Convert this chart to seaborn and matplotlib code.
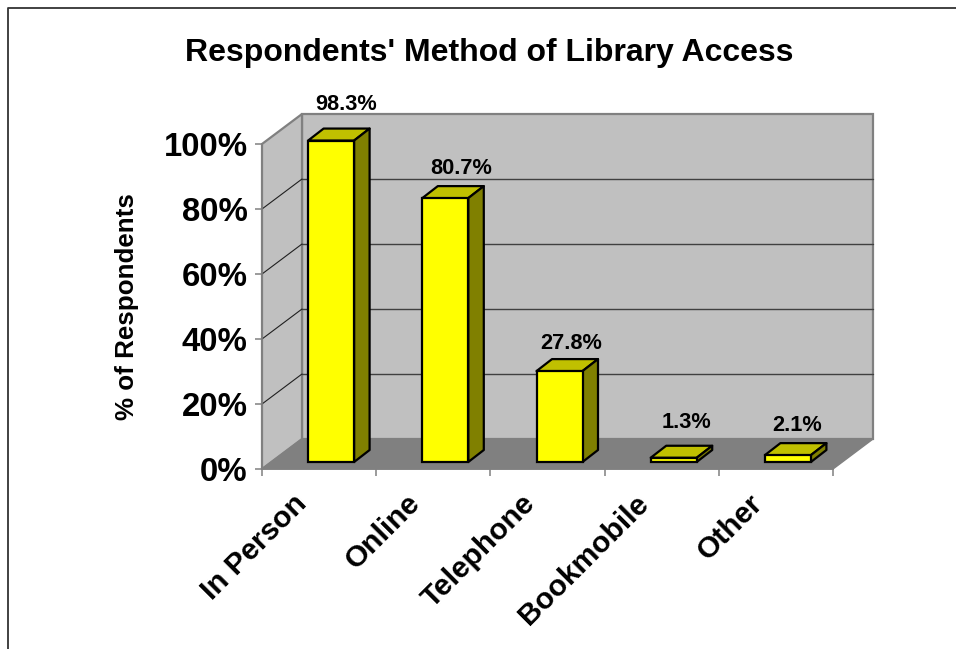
import matplotlib
matplotlib.use("Agg")
import matplotlib.pyplot as plt
from matplotlib.lines import Line2D
from matplotlib.transforms import ScaledTranslation
import numpy as np
import pandas as pd
import seaborn as sns

categories = ["In Person", "Online", "Telephone", "Bookmobile", "Other"]
values = [98.3, 80.7, 27.8, 1.3, 2.1]
value_labels = ["98.3%", "80.7%", "27.8%", "1.3%", "2.1%"]
y_ticks = [0, 20, 40, 60, 80, 100]
y_tick_labels = ["0%", "20%", "40%", "60%", "80%", "100%"]

W, H = 956, 649
DPI = 100
sns.set_theme(style="white")
plt.rcParams["font.family"] = ["Liberation Sans", "DejaVu Sans"]
plt.rcParams["font.weight"] = "bold"

fig = plt.figure(figsize=(W / DPI, H / DPI), dpi=DPI, facecolor="white")


def px_axes(left, right, top, bottom, **kw):
    return fig.add_axes([left / W, 1 - bottom / H, (right - left) / W, (bottom - top) / H], **kw)


# Outer chart frame (only left and top are visible)
fig.add_artist(Line2D([7.5 / W, 7.5 / W, 1], [0, 1 - 7.5 / H, 1 - 7.5 / H],
                      transform=fig.transFigure, color="#333333", lw=1.3))

# Front plane: ticks, labels and walls
ax = px_axes(262, 833, 144, 469)
ax.set_xlim(-0.5, 4.5)
ax.set_ylim(0, 100)
ax.patch.set_alpha(0)
ux, uy = 571 / 5, 325 / 100
wall_dx, wall_dy = 40 / ux, 30 / uy
GRAY, DARK, LINE = "#C0C0C0", "#808080", "#808080"
x0, x1 = -0.5, 4.5
ax.fill([x0 + wall_dx, x1 + wall_dx, x1 + wall_dx, x0 + wall_dx],
        [wall_dy, wall_dy, 100 + wall_dy, 100 + wall_dy],
        facecolor=GRAY, edgecolor=LINE, lw=1.6, clip_on=False, zorder=1)
ax.fill([x0, x0 + wall_dx, x0 + wall_dx, x0],
        [0, wall_dy, 100 + wall_dy, 100],
        facecolor=GRAY, edgecolor=LINE, lw=1.6, clip_on=False, zorder=1)
ax.fill([x0, x1, x1 + wall_dx, x0 + wall_dx],
        [0, 0, wall_dy, wall_dy],
        facecolor=DARK, edgecolor=LINE, lw=1.0, clip_on=False, zorder=1.5)
for t in y_ticks[1:-1]:
    ax.plot([x0 + wall_dx, x1 + wall_dx], [t + wall_dy] * 2, color="#404040", lw=1.0,
            clip_on=False, zorder=2)
    ax.plot([x0, x0 + wall_dx], [t, t + wall_dy], color="#202020", lw=0.8,
            clip_on=False, zorder=2)

sns.despine(ax=ax, left=True, bottom=True, top=True, right=True)
ax.set_yticks(y_ticks, y_tick_labels, fontsize=23.7, fontweight="bold", color="black")
ax.set_xticks(range(len(categories)))
ax.set_xticklabels(categories, rotation=45, ha="right", rotation_mode="anchor",
                   fontsize=21.5, fontweight="bold", color="black")
ax.set_xticks(np.arange(-0.5, 5), minor=True)
ax.tick_params(axis="x", which="major", length=0, pad=14.5)
ax.tick_params(axis="x", which="minor", length=5, width=1.1, color=LINE, bottom=True)
ax.tick_params(axis="y", length=5, width=1.1, color=LINE, pad=5.3, left=True)
shift = ScaledTranslation(-27 / DPI, 0, fig.dpi_scale_trans)
for lab in ax.get_xticklabels():
    lab.set_transform(lab.get_transform() + shift)
ax.set_ylabel("% of Respondents", fontsize=18.7, fontweight="bold", color="black", labelpad=0)
ax.yaxis.set_label_coords((139 - 262) / 571, 0.5 + (306.5 - 307) / 325)
ax.spines["bottom"].set_visible(True)
ax.spines["bottom"].set_color(LINE)
ax.spines["bottom"].set_linewidth(1.2)
ax.spines["left"].set_visible(True)
ax.spines["left"].set_color(LINE)
ax.spines["left"].set_linewidth(1.2)

# Bars sit slightly inside the floor, on their own plane
bx = px_axes(274, 845, 135, 462)
bx.patch.set_alpha(0)
df = pd.DataFrame({"category": categories, "value": values})
sns.barplot(data=df, x="category", y="value", ax=bx, color="#FFFF00", saturation=1,
            width=46 / ux, edgecolor="black", linewidth=1.6, zorder=5, clip_on=False)
bx.set_xlim(-0.5, 4.5)
bx.set_ylim(0, 100)
bx.axis("off")
bar_dx, bar_dy = 15.5 / ux, 12 / (327 / 100)
for p in bx.patches:
    l, r, t = p.get_x(), p.get_x() + p.get_width(), p.get_height()
    bx.fill([l, r, r + bar_dx, l + bar_dx], [t, t, t + bar_dy, t + bar_dy], facecolor="#C0C000",
            edgecolor="black", lw=1.6, clip_on=False, zorder=4, joinstyle="round")
    bx.fill([r, r + bar_dx, r + bar_dx, r], [0, bar_dy, t + bar_dy, t], facecolor="#808000",
            edgecolor="black", lw=1.6, clip_on=False, zorder=4, joinstyle="round")

# Data labels: offsets from each bar's top-centre, in pixels
label_shift_x = [15, 16, 12, 13, 9]
label_shift_y = [36, 30, 28, 35, 30]
for i, (v, s) in enumerate(zip(values, value_labels)):
    bx.annotate(s, xy=(i, v), xytext=(label_shift_x[i] * 0.72, label_shift_y[i] * 0.72),
                textcoords="offset points", ha="center", va="center",
                fontsize=15.7, fontweight="bold", color="black", annotation_clip=False, zorder=6)

fig.text(489 / W, 1 - 53 / H, "Respondents' Method of Library Access", ha="center", va="center",
         fontsize=23, fontweight="bold", color="black")

fig.savefig("out.png", dpi=DPI, facecolor="white")
